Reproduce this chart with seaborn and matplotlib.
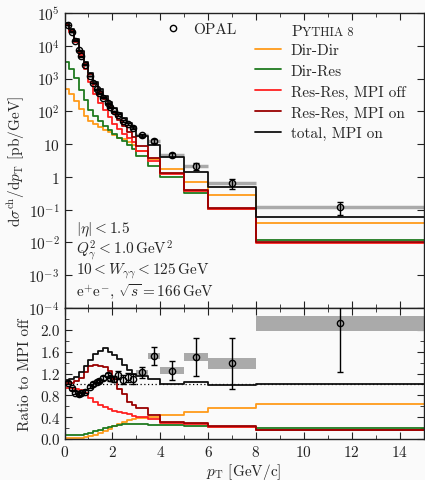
import numpy as np
import matplotlib
matplotlib.use("Agg")
import matplotlib.pyplot as plt
from matplotlib.lines import Line2D
from matplotlib.ticker import FixedLocator, MultipleLocator, NullLocator, FuncFormatter
import seaborn as sns

# ── data ──────────────────────────────────────────────────────────────────────
# Pythia 8 histogram bin edges (GeV/c)
PT_EDGES = [0.0, 0.2, 0.4, 0.6, 0.8, 1.0, 1.2, 1.4, 1.6, 1.8, 2.0, 2.2, 2.4, 2.6,
            2.8, 3.0, 3.5, 4.0, 5.0, 6.0, 8.0, 15.0]

# total cross section with MPI off, log10(pb/GeV), one value per bin
TOTAL_OFF_LOG10 = [4.67, 4.46, 4.14, 3.76, 3.38, 3.01, 2.71, 2.47, 2.26, 2.08,
                   1.92, 1.77, 1.65, 1.54, 1.43, 1.20, 0.92, 0.60, 0.14, -0.31, -1.22]

# ratios to the MPI-off total (bottom panel)
RATIO_DIR_DIR = [0.010, 0.012, 0.015, 0.020, 0.030, 0.05, 0.08, 0.11, 0.15, 0.19,
                 0.23, 0.27, 0.31, 0.34, 0.36, 0.38, 0.41, 0.44, 0.50, 0.56, 0.64]
RATIO_DIR_RES = [0.07, 0.07, 0.075, 0.08, 0.09, 0.11, 0.14, 0.17, 0.20, 0.22,
                 0.24, 0.26, 0.27, 0.27, 0.27, 0.27, 0.26, 0.25, 0.24, 0.22, 0.196]
RATIO_RES_OFF = [0.93, 0.93, 0.92, 0.89, 0.84, 0.76, 0.68, 0.63, 0.59, 0.55,
                 0.51, 0.49, 0.47, 0.45, 0.43, 0.40, 0.36, 0.30, 0.27, 0.22, 0.165]
RATIO_RES_ON = [1.02, 1.03, 1.06, 1.12, 1.22, 1.33, 1.36, 1.34, 1.32, 1.25,
                1.10, 0.92, 0.82, 0.68, 0.62, 0.56, 0.44, 0.32, 0.29, 0.23, 0.17]
RATIO_TOTAL_ON = [1.08, 1.10, 1.14, 1.22, 1.33, 1.45, 1.55, 1.62, 1.66, 1.60,
                  1.53, 1.46, 1.36, 1.26, 1.19, 1.15, 1.10, 1.01, 1.04, 0.99, 1.00]

# OPAL data
OPAL_PT = [0.15, 0.3, 0.45, 0.6, 0.7, 0.85, 1.05, 1.2, 1.35, 1.45, 1.6, 1.8,
           1.9, 2.05, 2.25, 2.45, 2.65, 2.85, 3.25, 3.75, 4.5, 5.5, 7.0, 11.5]
OPAL_HALF_WIDTH = [0.05, 0.075, 0.075, 0.05, 0.05, 0.1, 0.1, 0.05, 0.1, 0.05, 0.1, 0.1,
                   0.05, 0.1, 0.1, 0.1, 0.1, 0.1, 0.25, 0.25, 0.5, 0.5, 1.0, 3.5]
OPAL_XSEC = [4.3e4, 2.7e4, 1.4e4, 7.3e3, 4.8e3, 2.6e3, 1.2e3, 730, 470, 360, 260, 175,
             134, 100, 76, 52, 42, 32, 18.5, 12.6, 4.7, 2.1, 0.66, 0.12]
OPAL_RATIO = [1.03, 0.93, 0.85, 0.82, 0.84, 0.87, 0.96, 1.01, 1.05, 1.07, 1.12, 1.17,
              1.11, 1.10, 1.17, 1.085, 1.13, 1.10, 1.22, 1.52, 1.25, 1.50, 1.385, 2.12]
OPAL_RATIO_ERR = [0.03, 0.03, 0.03, 0.03, 0.03, 0.03, 0.03, 0.03, 0.03, 0.03, 0.03, 0.04,
                  0.04, 0.05, 0.07, 0.08, 0.08, 0.09, 0.10, 0.17, 0.175, 0.345, 0.46, 0.89]

# grey uncertainty boxes in the ratio panel
BAND_PT = [3.25, 3.75, 4.5, 5.5, 7.0, 11.5]
BAND_WIDTH = [0.5, 0.5, 1.0, 1.0, 2.0, 7.0]
BAND_LO = [1.17, 1.46, 1.19, 1.43, 1.28, 1.98]
BAND_HI = [1.26, 1.57, 1.32, 1.57, 1.48, 2.25]

# ── style ─────────────────────────────────────────────────────────────────────
sns.set_style("ticks")
plt.rcParams.update({
    "font.family": ["cmr10", "DejaVu Serif"],
    "mathtext.fontset": "cm",
    "axes.formatter.use_mathtext": True,
    "font.size": 11,
    "axes.edgecolor": "#222222",
    "axes.linewidth": 1.0,
    "xtick.direction": "in",
    "ytick.direction": "in",
    "xtick.top": True,
    "ytick.right": True,
    "xtick.major.size": 5,
    "ytick.major.size": 5,
    "xtick.minor.size": 3,
    "ytick.minor.size": 3,
    "xtick.color": "#222222",
    "ytick.color": "#222222",
})

COLORS = {
    "dd":   "#ff9a1a",
    "dr":   "#1f7a1f",
    "roff": "#ff2020",
    "ron":  "#990000",
    "tot":  "#111111",
    "grey": "#aaaaaa",
}

BG = "#fafafa"
fig = plt.figure(figsize=(4.25, 4.81), dpi=100, facecolor=BG)
ax = fig.add_axes([64.5 / 425, 1 - 309 / 481, 359 / 425, 295 / 481], facecolor=BG)
axr = fig.add_axes([64.5 / 425, 1 - 440 / 481, 359 / 425, 131 / 481], facecolor=BG)

edges = np.array(PT_EDGES)
total_off = 10 ** np.array(TOTAL_OFF_LOG10)


def steps(axis, ratio, color, scale=None, label=None):
    vals = np.array(ratio) if scale is None else np.array(ratio) * scale
    y = np.append(vals, vals[-1])
    sns.lineplot(x=edges, y=y, ax=axis, color=color, lw=1.3,
                 drawstyle="steps-post", label=label, legend=False)


series = [
    (RATIO_DIR_DIR, COLORS["dd"], "Dir-Dir"),
    (RATIO_DIR_RES, COLORS["dr"], "Dir-Res"),
    (RATIO_RES_OFF, COLORS["roff"], "Res-Res, MPI off"),
    (RATIO_RES_ON, COLORS["ron"], "Res-Res, MPI on"),
    (RATIO_TOTAL_ON, COLORS["tot"], "total, MPI on"),
]

# ── top panel: spectra ───────────────────────────────────────────────────────
ax.set_yscale("log")
opal_pt = np.array(OPAL_PT)
opal_xsec = np.array(OPAL_XSEC)
opal_ratio = np.array(OPAL_RATIO)
opal_rerr = np.array(OPAL_RATIO_ERR)

ax.errorbar(opal_pt, opal_xsec, xerr=OPAL_HALF_WIDTH, fmt="none",
            ecolor=COLORS["grey"], elinewidth=2.5, zorder=1)
for ratio, color, label in series:
    steps(ax, ratio, color, scale=total_off, label=label)
ax.errorbar(opal_pt, opal_xsec, yerr=opal_xsec * opal_rerr / opal_ratio,
            fmt="o", ms=4.5, mfc="none", mec="black", mew=1.0,
            ecolor="black", elinewidth=1.0, capsize=2, zorder=5)

ax.set_xlim(0, 15)
ax.set_ylim(1e-4, 1e5)
ax.xaxis.set_major_locator(MultipleLocator(2))
ax.xaxis.set_minor_locator(MultipleLocator(1))
ax.yaxis.set_major_locator(FixedLocator([10.0 ** k for k in range(-4, 6)]))
ax.yaxis.set_minor_locator(NullLocator())


def log_label(v, pos):
    k = int(round(np.log10(v)))
    if k == 0:
        return "$1$"
    if k == 1:
        return "$10$"
    return "$10^{%d}$" % k


ax.yaxis.set_major_formatter(FuncFormatter(log_label))
ax.tick_params(labelbottom=False)
ax.set_xlabel("")
ax.set_ylabel(r"$\mathrm{d}\sigma^{\mathrm{ch}}/\mathrm{d}p_{\mathrm{T}}$ [pb/GeV]")

# legends
opal_handle = Line2D([], [], marker="o", ls="none", ms=4.5, mfc="none", mec="black")
leg1 = ax.legend([opal_handle], ["OPAL"], loc="upper left", bbox_to_anchor=(0.282, 0.967),
                 frameon=False, handlelength=1.0, handletextpad=0.8, borderpad=0,
                 borderaxespad=0, fontsize=11)
ax.add_artist(leg1)
handles = [Line2D([], [], color=c, lw=1.3) for _, c, _ in series]
ax.legend(handles, [l for _, _, l in series], loc="upper left",
          bbox_to_anchor=(0.532, 0.897), frameon=False, handlelength=1.7,
          handletextpad=0.6, labelspacing=0.45, borderpad=0, borderaxespad=0,
          fontsize=11)

p = ax.text(0.633, 0.924, "P", transform=ax.transAxes, fontsize=11.5, va="baseline")
ax.annotate("YTHIA 8", xy=(1, 0), xycoords=p, fontsize=9, va="bottom")

info = [
    r"$|\eta| < 1.5$",
    r"$Q^2_{\gamma} < 1.0\,\mathrm{GeV}^2$",
    r"$10 < W_{\gamma\gamma} < 125\,\mathrm{GeV}$",
    r"$\mathrm{e}^{+}\mathrm{e}^{-}$, $\sqrt{s} = 166\,\mathrm{GeV}$",
]
for i, line in enumerate(info):
    ax.text(0.033, 0.268 - i * 0.07, line, transform=ax.transAxes, va="center",
            fontsize=11)

# ── bottom panel: ratios ─────────────────────────────────────────────────────
axr.bar(BAND_PT, np.array(BAND_HI) - np.array(BAND_LO), bottom=BAND_LO,
        width=BAND_WIDTH, color=COLORS["grey"], lw=0, zorder=1)
axr.axhline(1.0, color="black", ls=(0, (1, 2)), lw=0.9, zorder=2)
for ratio, color, label in series:
    steps(axr, ratio, color)
axr.errorbar(opal_pt, opal_ratio, yerr=opal_rerr, fmt="o", ms=4.5, mfc="none",
             mec="black", mew=1.0, ecolor="black", elinewidth=1.0, capsize=2, zorder=5)

axr.set_xlim(0, 15)
axr.set_ylim(0, 2.4)
axr.xaxis.set_major_locator(MultipleLocator(2))
axr.xaxis.set_minor_locator(MultipleLocator(1))
axr.yaxis.set_major_locator(FixedLocator([0.0, 0.4, 0.8, 1.2, 1.6, 2.0]))
axr.yaxis.set_minor_locator(MultipleLocator(0.2))
axr.yaxis.set_major_formatter(FuncFormatter(lambda v, pos: f"{v:.1f}"))
axr.set_xlabel(r"$p_{\mathrm{T}}$ [GeV/c]")
axr.set_ylabel("Ratio to MPI off")
ax.yaxis.set_label_coords(-0.105, 0.5)
axr.yaxis.set_label_coords(-0.09, 0.5)
axr.xaxis.set_label_coords(0.5, -0.165)

fig.savefig("out.png", dpi=100, facecolor=BG)
